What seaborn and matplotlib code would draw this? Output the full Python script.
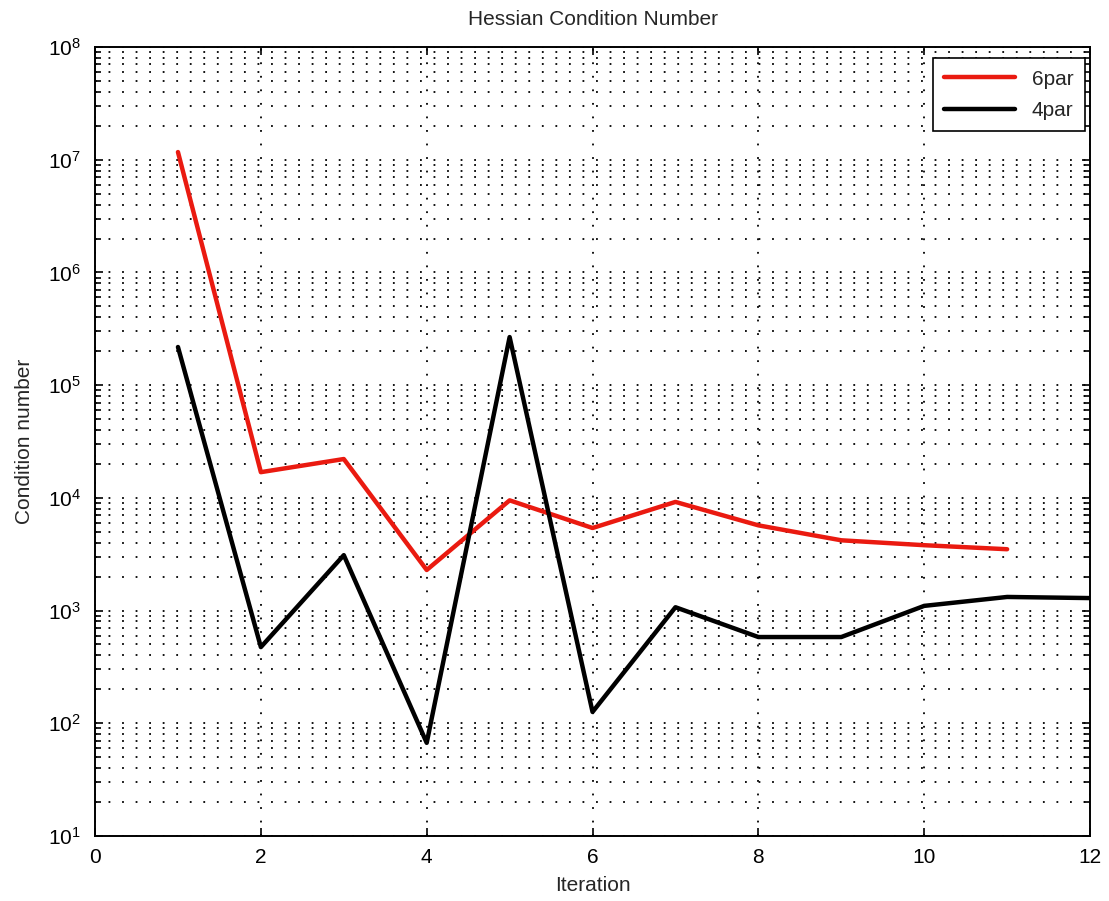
import numpy as np
import pandas as pd
import matplotlib
matplotlib.use("Agg")
import matplotlib.pyplot as plt
import seaborn as sns
from matplotlib.ticker import FixedLocator, NullFormatter, LogFormatterSciNotation

# Hessian condition number per iteration for the two parameterisations
iter_6par = [1, 2, 3, 4, 5, 6, 7, 8, 9, 10, 11]
cond_6par = [1.17e7, 1.69e4, 2.21e4, 2.29e3, 9.5e3, 5.4e3, 9.2e3, 5.7e3, 4.2e3, 3.8e3, 3.5e3]

iter_4par = [1, 2, 3, 4, 5, 6, 7, 8, 9, 10, 11, 12]
cond_4par = [2.18e5, 474, 3.1e3, 67, 2.67e5, 126, 1.07e3, 582, 582, 1.1e3, 1.32e3, 1.29e3]

series_names = ["6par", "4par"]
series_colors = {"6par": "#ea1a10", "4par": "black"}

x_ticks = [0, 2, 4, 6, 8, 10, 12]
y_decades = [1, 2, 3, 4, 5, 6, 7, 8]

df = pd.concat([
    pd.DataFrame({"Iteration": iter_6par, "Condition number": cond_6par, "series": "6par"}),
    pd.DataFrame({"Iteration": iter_4par, "Condition number": cond_4par, "series": "4par"}),
], ignore_index=True)

sns.set_style("white")
plt.rcParams["font.family"] = ["Liberation Sans", "DejaVu Sans"]
plt.rcParams["mathtext.fontset"] = "custom"
plt.rcParams["mathtext.rm"] = "Liberation Sans"
plt.rcParams["mathtext.it"] = "Liberation Sans"

fig = plt.figure(figsize=(11.09, 9.01), dpi=100)
ax = fig.add_axes([0.0857, 0.0722, 0.8972, 0.8756])

sns.lineplot(data=df, x="Iteration", y="Condition number", hue="series",
             hue_order=series_names, palette=series_colors, linewidth=3.2,
             ax=ax, sort=False, estimator=None)

ax.set_yscale("log")
ax.set_xlim(0, 12)
ax.set_ylim(1e1, 1e8)
ax.xaxis.set_major_locator(FixedLocator(x_ticks))
major_y = [10.0 ** d for d in y_decades]
minor_y = [m * 10.0 ** d for d in y_decades[:-1] for m in range(2, 10)]
ax.yaxis.set_major_locator(FixedLocator(major_y))
ax.yaxis.set_major_formatter(LogFormatterSciNotation())
ax.yaxis.set_minor_locator(FixedLocator(minor_y))
ax.yaxis.set_minor_formatter(NullFormatter())

dotted = dict(color="black", linestyle=(0, (1, 6.5)), linewidth=1.3)
ax.grid(True, which="major", axis="both", **dotted)
ax.grid(True, which="minor", axis="y", **dotted)

for side in ax.spines.values():
    side.set_visible(True)
    side.set_color("black")
    side.set_linewidth(1.4)

ax.tick_params(which="both", direction="in", top=True, right=True,
               bottom=True, left=True, colors="black", labelsize=15)
ax.tick_params(which="major", length=6, width=1.2)
ax.tick_params(which="minor", length=4, width=1.2)
ax.tick_params(axis="y", which="major", pad=10)
ax.tick_params(axis="x", which="major", pad=9)

ax.set_title("Hessian Condition Number", fontsize=15, pad=16)
ax.set_xlabel("Iteration", fontsize=15, labelpad=6)
ax.set_ylabel("Condition number", fontsize=15, labelpad=10)

leg = ax.legend(loc="upper right", fontsize=15, frameon=True, fancybox=False,
                handlelength=3.4, borderpad=0.55, labelspacing=0.6,
                borderaxespad=0, bbox_to_anchor=(0.995, 0.986))
leg.get_frame().set_edgecolor("black")
leg.get_frame().set_linewidth(1.2)
leg.get_frame().set_alpha(1)

fig.savefig("out.png", dpi=100)
